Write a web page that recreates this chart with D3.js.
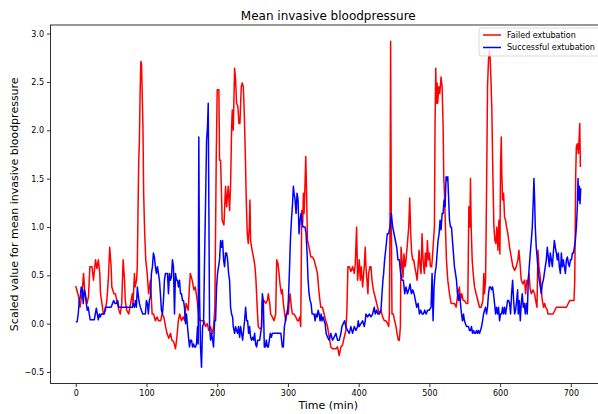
<!DOCTYPE html>
<html>
<head>
<meta charset="utf-8">
<script src="https://cdn.jsdelivr.net/npm/d3@7"></script>
<style>
  body { margin: 0; background: #fff; }
  svg { display: block; }
  text { font-family: "DejaVu Sans", sans-serif; fill: #000; }
</style>
</head>
<body>
<svg id="chart" width="598" height="414"></svg>
<script>
// [minute, scaled value] for the failed extubation group
const failed = [[0,0.39],[4,0.28],[6,0.17],[9,0.31],[11,0.52],[13,0.31],[16,0.21],[18,0.28],[20,0.59],[23,0.59],[25,0.45],[28,0.66],[30,0.57],[32,0.66],[34,0.52],[35,0.31],[37,0.21],[39,0.1],[42,0.14],[44,0.24],[46,0.45],[48,0.79],[50,0.59],[51,0.38],[54,0.31],[56,0.31],[58,0.24],[61,0.14],[63,0.1],[65,0.21],[67,0.66],[69,0.45],[70,0.24],[72,0.14],[75,0.1],[77,0.19],[80,0.31],[81,0.21],[83,0.52],[84,0.38],[86,0.45],[87,0.59],[88,1.14],[89,1.66],[90,1.9],[91,2.38],[92,2.71],[93,2.69],[95,2.04],[96,1.35],[97.5,0.93],[99,0.66],[101,0.52],[103,0.31],[105.6,0.45],[108,0.1],[110,0.1],[112.6,0.03],[115,0.07],[117,0.03],[120,0.03],[122,0.1],[124.5,0.07],[127,-0.03],[129,-0.1],[131.5,-0.15],[134,-0.1],[136,-0.17],[138.6,-0.19],[141,-0.26],[143,-0.14],[145,0.03],[147,0.1],[149.5,0.03],[152,0.07],[154,0.03],[156,0.21],[159,0.14],[161,0.41],[162,0.52],[164.6,0.45],[167,0.35],[169,0.38],[171.7,0.24],[174,0.07],[176,0.03],[179,0.03],[181,0.03],[183.5,-0.03],[186,0],[188,-0.07],[190.6,-0.03],[193,-0.1],[195,-0.03],[196.7,0.17],[198.6,1.69],[200,2.42],[202.4,2.42],[203.3,1.69],[204.8,1.69],[207,1.07],[209.5,1.02],[211.8,1.42],[213.3,1.21],[215.6,1.42],[217.5,1.17],[219,1.45],[220.4,2.04],[221.3,2.21],[222.7,2.0],[224.6,2.64],[226,2.52],[227.4,2.28],[229.3,2.24],[230.7,2.07],[232.1,2.07],[234,2.45],[235.4,2.49],[236.9,2.45],[238.3,2.17],[239.7,1.76],[241.1,1.28],[242.5,0.93],[243.9,0.83],[245.4,1.0],[246.3,1.28],[247.2,0.86],[248.7,0.79],[250.1,0.73],[252,0.66],[253.4,0.59],[254.8,0.45],[256.7,0.14],[258.1,-0.03],[260,-0.05],[262.4,-0.05],[263.8,0.24],[266.1,0.24],[268.5,0.21],[270.9,0.24],[272.3,0.31],[274.2,0.21],[275.6,0.1],[277.9,0.07],[280.3,0.03],[282.7,0.1],[284.1,0.66],[286,0.62],[287.4,0.52],[288.8,0.41],[290.7,0.31],[292.1,0.35],[293.5,0.21],[295.4,0.1],[296.8,0.03],[299.2,0.14],[300.6,0.1],[301.6,0.21],[303,0.31],[304.9,0.17],[306.3,0.1],[308.7,0.1],[311,0.07],[313.4,0.03],[314.8,0.03],[316.7,0.07],[318.1,-0.03],[319.5,1.17],[320.9,1.04],[321.9,1.35],[322.8,1.14],[324.2,1.45],[325.2,1.73],[326.1,1.45],[327.6,0.86],[329.9,0.79],[332.3,0.69],[334.6,0.69],[337,0.66],[339.4,0.59],[341.7,0.52],[344.1,0.31],[346.4,0.17],[348.8,0.17],[351.2,0.1],[353.5,0.03],[356,-0.03],[358.3,-0.14],[360.7,-0.24],[363,-0.26],[365.4,-0.26],[367.8,-0.26],[370.1,-0.24],[372.5,-0.33],[374.9,-0.24],[377.2,-0.22],[379.6,-0.14],[381.9,-0.07],[383.4,0.14],[384.8,0.59],[386.7,0.59],[389,0.54],[391.4,0.59],[393.8,0.52],[395.2,0.62],[397.1,1.0],[398.5,0.45],[400.8,0.66],[402.3,0.45],[403.7,0.59],[405.6,0.38],[407.9,0.59],[409.3,0.79],[410.3,0.59],[411.7,0.45],[413.1,0.31],[414.1,0.52],[416,0.59],[417.4,0.59],[418.8,0.45],[420.7,0.35],[422.1,0.31],[424.5,0.24],[426.8,0.17],[429.2,0.1],[431.5,0.14],[433.9,0.07],[436.3,0.03],[438.6,0.03],[441,0],[442.4,-0.03],[443.4,0.1],[444.3,1.0],[445.2,2.92],[446.2,1.0],[447.1,0.1],[449,0.1],[450.9,0.03],[452.8,-0.03],[454.2,-0.1],[456.1,-0.17],[457.5,-0.17],[459,-0.03],[459.9,0.79],[461.3,0.66],[462.7,0.48],[464.1,0.72],[465.6,0.59],[467,0.66],[468.9,0.83],[470.8,1.0],[472.2,1.3],[473.6,0.93],[475,0.73],[476.4,0.66],[477.8,0.66],[479.3,0.59],[481.1,0.52],[482.6,0.45],[484,0.59],[485.4,0.76],[486.8,0.59],[488.2,0.52],[489.6,0.93],[491,0.66],[492.9,0.52],[494.3,0.73],[495.8,0.59],[497.2,0.86],[498.6,0.66],[500,0.73],[501.4,0.59],[503.3,0.59],[505.2,0.79],[507.1,1.0],[508,2.04],[509,2.64],[509.9,2.28],[510.9,2.49],[511.8,2.28],[513.2,2.45],[514.7,2.38],[516.5,2.55],[518,2.45],[519.4,2.04],[520.3,1.52],[521.3,1.35],[522.7,1.0],[524.1,0.66],[526,0.45],[528.4,0.31],[530.7,0.21],[533.1,0.21],[535.4,0.21],[537.8,0.17],[540.2,0.31],[542.5,0.38],[543.9,0.24],[545.8,0.31],[547.7,0.24],[549.6,0.24],[552,0.21],[554.3,0.21],[555.8,1.21],[557.2,1.0],[558.1,1.5],[559.1,1.0],[560.5,0.66],[561.9,0.52],[563.8,0.38],[566.1,0.31],[568.5,0.24],[570.9,0.17],[573.2,0.17],[575.6,0.24],[577,0.52],[577.9,0.31],[579.4,0.45],[580.8,1.35],[582.2,2.45],[583.6,2.73],[585,2.83],[586,2.73],[586.9,2.55],[588.3,2.21],[589.8,1.52],[591.2,1.0],[592.6,0.86],[594,0.83],[595.4,1.0],[596.9,0.76],[598.3,1.07],[599.7,0.72],[600.6,1.62],[601.6,1.93],[602.5,1.52],[603.5,1.28],[604.9,1.35],[606.3,1.1],[607.7,1.07],[609.1,1.0],[611,0.93],[613.4,0.79],[615.7,0.69],[618.1,0.59],[620.5,0.55],[622.8,0.59],[625.2,0.66],[626.6,0.76],[628.5,0.59],[629.9,0.45],[632.2,0.41],[634.6,0.45],[636,0.31],[637.9,0.45],[639.3,0.41],[640.8,0.52],[642.6,0.35],[644.1,0.31],[646.4,0.35],[648.8,0.31],[650.2,0.24],[652.1,0.17],[653.5,0.76],[654.9,0.59],[656.8,0.48],[658.2,0.35],[659.6,0.24],[661.5,0.17],[663,0.21],[664.4,0.17],[666.3,0.15],[667.7,0.1],[670,0.1],[674.8,0.1],[679.5,0.17],[684.2,0.17],[688.9,0.17],[693.7,0.17],[698.4,0.24],[703.1,0.24],[704.5,0.24],[705.5,0.45],[706.9,1.55],[707.8,1.83],[709.2,1.86],[710.7,1.76],[711.6,1.9],[712.6,2.07],[713.5,1.62]];

// [minute, scaled value] for the successful extubation group
const successful = [[0,0.02],[2,0.02],[3.5,0.1],[5,0.24],[6.4,0.28],[7.8,0.38],[9.2,0.35],[10.6,0.21],[12,0.35],[13.5,0.31],[14.9,0.21],[16.3,0.14],[17.7,0.17],[19.1,0.1],[20.5,0.04],[22,0.04],[23.4,0.04],[24.8,0.04],[26.2,0.04],[27.6,0.1],[29.1,0.16],[30.5,0.1],[31.9,0.04],[33.3,0.1],[34.7,0.07],[36.1,0.1],[37.5,0.1],[39,0.1],[40.4,0.1],[41.8,0.17],[44,0.17],[47,0.17],[50,0.17],[52,0.21],[53.6,0.24],[55.5,0.21],[57.4,0.21],[59.3,0.24],[60.7,0.17],[63,0.17],[66,0.17],[70,0.17],[74,0.17],[78,0.17],[80,0.17],[81,0.21],[83,0.17],[84.3,0.24],[85.7,0.17],[87.1,0.38],[88.6,0.28],[90,0.21],[91.4,0.17],[92.8,0.14],[94.7,0.1],[96.6,0.1],[98.5,0.1],[99.9,0.24],[101.3,0.21],[102.7,0.1],[104.1,0.24],[105.6,0.28],[107,0.52],[108.4,0.59],[109.8,0.73],[111.2,0.69],[112.6,0.59],[114.1,0.52],[115.5,0.59],[116.9,0.52],[118.3,0.45],[119.7,0.31],[121.1,0.14],[122.6,0.1],[124,0.24],[125.4,0.45],[126.8,0.52],[128.2,0.52],[129.7,0.52],[131.1,0.31],[132.5,0.52],[133.9,0.45],[135.3,0.48],[136.7,0.66],[138.2,0.59],[139.6,0.1],[141,0.52],[142.4,0.45],[143.8,0.45],[145.2,0.38],[146.7,0.45],[148.1,0.31],[149.5,0.31],[150.9,0.24],[152.3,0.24],[153.7,0.17],[155.2,0],[156.6,0.1],[158,-0.03],[159.4,-0.14],[160.8,-0.24],[162.2,-0.17],[163.7,-0.17],[165.1,-0.24],[166.5,-0.21],[167.9,-0.24],[169.3,-0.24],[170.7,-0.21],[172.2,-0.03],[173.1,-0.21],[174,1.93],[175,0.31],[176.4,-0.24],[177.8,-0.45],[179.3,-0.03],[180.7,0],[182.1,0.66],[183.5,1.24],[185,1.9],[186.3,2.04],[187.3,2.28],[188.2,1.21],[189.2,-0.03],[190.6,-0.17],[192,-0.1],[193.5,-0.17],[194.8,-0.24],[196.3,0.03],[197.7,0.03],[199.1,0.38],[200.5,0.52],[201.9,0.59],[203.3,0.66],[204.8,0.86],[206.2,0.79],[207.6,0.86],[209,0.66],[210.4,0.59],[211.8,0.73],[213.3,0.73],[214.7,0.66],[216.1,0.52],[217.5,0.45],[218.9,0.17],[220.3,0.1],[221.7,0.07],[222.7,-0.03],[224.6,-0.1],[226,-0.03],[227.4,-0.07],[228.8,-0.1],[230.2,-0.03],[231.7,-0.14],[233.1,-0.03],[234.5,-0.1],[235.9,-0.17],[237.3,-0.07],[238.7,0.03],[240.2,0.17],[241.6,0.03],[243,0.03],[244.4,-0.1],[245.8,-0.03],[247.2,-0.14],[248.7,-0.17],[250.1,-0.14],[251.5,-0.17],[252.9,-0.1],[254.3,-0.21],[255.7,-0.24],[257.2,-0.17],[258.6,-0.17],[260,-0.17],[261.4,-0.1],[262.8,-0.03],[263.8,0.31],[265.2,0.24],[266.6,-0.24],[268,-0.24],[269.4,-0.17],[270.9,-0.24],[272.3,-0.24],[273.7,-0.17],[275.1,-0.1],[276.5,-0.14],[278,-0.1],[281,-0.1],[284,-0.1],[287,-0.1],[290,-0.1],[292.1,-0.24],[293.5,-0.24],[295,-0.03],[296.4,0.03],[297.8,0.1],[299.2,0.1],[300.6,0.24],[302,0.52],[303.5,0.86],[304.9,1.07],[306.3,1.21],[307.7,1.42],[308.7,1.35],[310.1,1.28],[311.5,1.14],[312.9,1.35],[314.3,1.28],[315.7,0.93],[317.2,1.07],[318.6,1.14],[320,1.04],[321.4,1.0],[322.8,1.0],[324.2,1.0],[325.7,0.93],[327.1,0.72],[328.5,0.45],[329.9,0.31],[331.3,0.24],[332.7,0.21],[334.2,0.1],[335.6,0.1],[337,0.1],[338.4,0.03],[339.8,0.1],[341.3,0.07],[342.7,0.14],[344.1,0.1],[345.5,0.03],[346.9,0.1],[348.3,0.03],[349.7,0.07],[351.2,0.03],[352.6,0],[354,-0.1],[356,-0.14],[358.3,-0.17],[360.7,-0.1],[363,-0.17],[365.4,-0.14],[367.8,-0.1],[370.1,-0.17],[372.5,-0.17],[374.9,-0.1],[376.3,-0.03],[378.2,0],[380.1,0.03],[381.9,-0.03],[384.3,-0.07],[386.7,-0.1],[389,-0.03],[391.4,-0.1],[393.8,-0.03],[396.1,-0.07],[398.5,-0.03],[399.4,0.03],[400.8,-0.03],[403.2,0],[405.6,0.03],[407.9,-0.03],[409.3,0.03],[410.3,0.1],[412.7,0.07],[415.1,0.1],[417.4,0.07],[419.7,0.1],[422.1,0.17],[423.5,0.1],[425.4,0.14],[427.3,0.1],[429.2,0.1],[431.5,0.14],[433,0.31],[434.3,0.45],[435.3,0.52],[436.7,0.66],[438.6,0.79],[440.5,0.93],[442.4,0.93],[444.3,1.0],[446.2,1.14],[447.1,1.07],[448.1,1.0],[450,0.93],[451.9,0.86],[453.8,0.79],[455.6,0.66],[457.5,0.66],[459.4,0.52],[461.3,0.45],[463.2,0.45],[465.1,0.31],[467,0.38],[468.9,0.31],[470.8,0.35],[472.7,0.41],[474.5,0.31],[476.4,0.35],[478.3,0.31],[480.2,0.24],[482.1,0.17],[484,0.21],[485.9,0.1],[487.8,0.14],[489.7,0.1],[491.5,0.1],[493.4,0.14],[495.3,0.1],[497.6,0.14],[500,0.14],[502.4,0.17],[503.8,0.52],[505.2,0.03],[506.6,0.38],[508,0.52],[509.5,0.59],[510.9,0.73],[512.3,0.86],[513.7,0.93],[515.1,1.07],[516.5,0.97],[518,1.14],[519.4,1.14],[520.8,1.28],[522.2,1.21],[523.6,1.52],[525.1,1.48],[526,1.52],[526.9,1.35],[528.4,1.07],[529.8,1.0],[531.2,1.0],[532.6,0.86],[534,0.73],[535.4,0.59],[536.9,0.52],[538.3,0.45],[539.7,0.31],[541.1,0.24],[542.5,0.31],[543.9,0.21],[545.4,0.1],[546.8,0.03],[548.2,0.1],[549.6,0.03],[551,0],[552.5,-0.03],[555.3,-0.03],[556.7,-0.07],[558.1,-0.07],[559.5,-0.03],[561,-0.1],[562.4,-0.07],[563.8,-0.1],[565.2,-0.1],[566.6,-0.07],[568.1,-0.1],[569.5,-0.07],[570.9,-0.1],[572.3,-0.07],[573.7,-0.03],[575.2,0.03],[576.6,0.1],[578,0.14],[579.4,0.17],[580.8,0.1],[582.2,0.17],[583.6,0.31],[585,0.38],[586.5,0.38],[587.9,0.35],[589.3,0.38],[590.7,0.31],[592.1,0.21],[593.6,0.1],[595,0.17],[596.4,0.1],[597.8,0.17],[599.2,0.03],[600.6,0.1],[602.1,0.1],[603.5,0.17],[604.9,0.1],[606.3,0.17],[607.8,0.1],[609.2,0.17],[610.6,0.24],[612,0.24],[613.4,0.21],[614.8,0.1],[616.2,0.31],[617.7,0.45],[619.1,0.24],[620.5,0.1],[621.9,0.14],[623.4,0.24],[624.8,0.35],[625.6,0.1],[627,0.24],[628.5,0.03],[629.9,0.21],[631.3,0.31],[632.7,0.17],[634.1,0.21],[635.6,0.1],[637,0.21],[638.4,0.1],[639.8,0.45],[641.2,0.59],[642.6,0.73],[644.1,0.86],[645.5,1.0],[646.9,1.28],[647.8,1.5],[648.8,1.28],[649.7,1.0],[651.1,0.79],[652.6,0.66],[654,0.52],[655.4,0.45],[656.8,0.38],[658.2,0.31],[659.6,0.41],[661.1,0.45],[662.5,0.52],[663.9,0.59],[665.3,0.66],[666.7,0.79],[668.1,0.69],[669.6,0.59],[671,0.73],[672.4,0.66],[673.8,0.59],[675.2,0.73],[676.7,0.86],[678.1,0.79],[679.5,0.73],[680.9,0.66],[682.3,0.73],[683.7,0.59],[685.2,0.52],[686.6,0.73],[688,0.59],[689.4,0.66],[690.8,0.59],[692.3,0.52],[693.7,0.66],[695.1,0.69],[696.5,0.62],[697.9,0.59],[699.3,0.66],[700.8,0.66],[702.2,0.73],[703.6,0.73],[705,0.79],[706.4,0.86],[707.8,1.0],[709.2,1.21],[710.2,1.5],[711.1,1.28],[712.1,1.42],[713,1.24],[714,1.4]];

const seriesNames = ["Failed extubation", "Successful extubation"];
const seriesColors = ["#ff0000", "#0000ff"];
const xTicks = [0, 100, 200, 300, 400, 500, 600, 700];
const yTicks = [-0.5, 0, 0.5, 1, 1.5, 2, 2.5, 3];
const titleText = "Mean invasive bloodpressure";
const xLabel = "Time (min)";
const yLabel = "Scaled value for mean invasive bloodpressure";

const svg = d3.select("#chart");
const plot = { left: 50.5, right: 606, top: 25, bottom: 383.5 };

// data range padded by 5% on each side
const xExt = d3.extent(failed.concat(successful), d => d[0]);
const yExt = d3.extent(failed.concat(successful), d => d[1]);
const xPad = (xExt[1] - xExt[0]) * 0.05;
const yPad = (yExt[1] - yExt[0]) * 0.05;

const x = d3.scaleLinear().domain([xExt[0] - xPad, xExt[1] + xPad]).range([plot.left, plot.right]);
const y = d3.scaleLinear().domain([yExt[0] - yPad, yExt[1] + yPad]).range([plot.bottom, plot.top]);

const fmtY = v => d3.format(".1f")(v).replace("-", "\u2212");

// axes
const xAxis = svg.append("g")
  .attr("transform", `translate(0,${plot.bottom})`)
  .call(d3.axisBottom(x).tickValues(xTicks).tickSize(3.5).tickPadding(3).tickFormat(d3.format("d")));
const yAxis = svg.append("g")
  .attr("transform", `translate(${plot.left},0)`)
  .call(d3.axisLeft(y).tickValues(yTicks).tickSize(3.5).tickPadding(3).tickFormat(fmtY));

[xAxis, yAxis].forEach(g => {
  g.select(".domain").remove();
  g.selectAll(".tick line").attr("stroke", "#000").attr("stroke-width", 0.8);
  g.selectAll(".tick text").attr("font-size", 8).attr("font-family", "DejaVu Sans, sans-serif").attr("fill", "#000");
});

// lines
const line = d3.line().x(d => x(d[0])).y(d => y(d[1]));
svg.append("clipPath").attr("id", "plot-clip")
  .append("rect").attr("x", plot.left).attr("y", plot.top)
  .attr("width", plot.right - plot.left).attr("height", plot.bottom - plot.top);

[failed, successful].forEach((data, i) => {
  svg.append("path")
    .datum(data)
    .attr("d", line)
    .attr("fill", "none")
    .attr("stroke", seriesColors[i])
    .attr("stroke-width", 1.5)
    .attr("stroke-linejoin", "round")
    .attr("clip-path", "url(#plot-clip)");
});

// frame
svg.append("rect")
  .attr("x", plot.left).attr("y", plot.top)
  .attr("width", plot.right - plot.left).attr("height", plot.bottom - plot.top)
  .attr("fill", "none").attr("stroke", "#000").attr("stroke-width", 0.8);

// legend, upper right
const legend = svg.append("g").attr("transform", `translate(479,${plot.top + 3})`);
legend.append("rect")
  .attr("x", 0).attr("y", 0).attr("width", 124).attr("height", 28).attr("rx", 2)
  .attr("fill", "#fff").attr("fill-opacity", 0.8).attr("stroke", "#d0d0d0").attr("stroke-width", 0.8);
seriesNames.forEach((name, i) => {
  const ly = 7 + i * 12.5;
  legend.append("line").attr("x1", 4).attr("x2", 22).attr("y1", ly).attr("y2", ly)
    .attr("stroke", seriesColors[i]).attr("stroke-width", 1.5);
  legend.append("text").attr("x", 28).attr("y", ly).attr("dy", "0.35em")
    .attr("font-size", 8).text(name);
});

// titles
const cx = (plot.left + plot.right) / 2;
svg.append("text").attr("x", cx).attr("y", 20).attr("text-anchor", "middle")
  .attr("font-size", 12).text(titleText);
svg.append("text").attr("x", cx).attr("y", 409).attr("text-anchor", "middle")
  .attr("font-size", 11).text(xLabel);
svg.append("text").attr("transform", `translate(18,${(plot.top + plot.bottom) / 2}) rotate(-90)`)
  .attr("text-anchor", "middle").attr("font-size", 11).text(yLabel);
</script>
</body>
</html>
